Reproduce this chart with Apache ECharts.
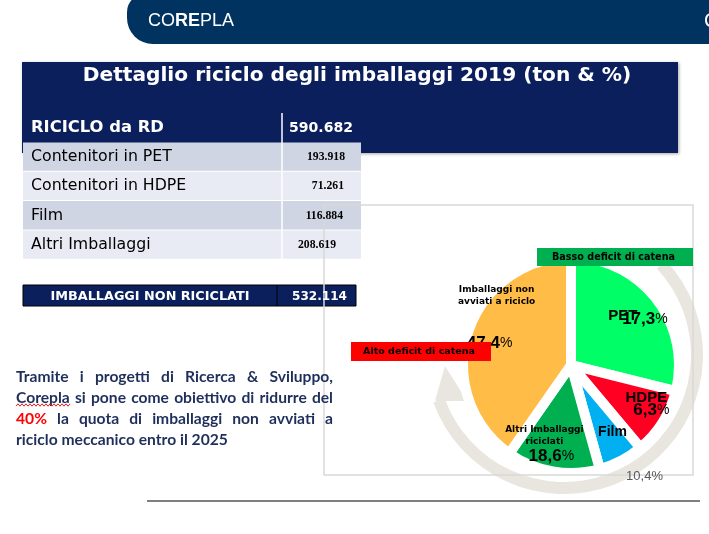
<!DOCTYPE html>
<html><head><meta charset="utf-8">
<script src="https://cdn.jsdelivr.net/npm/echarts/dist/echarts.min.js"></script>
<style>html,body{margin:0;padding:0;background:#fff}#c{width:709px;height:534px}</style>
</head><body><div id="c"></div>
<script>
// ---------------- data ----------------
const logoParts = ['CO', 'RE', 'PLA'];
const titleText = 'Dettaglio riciclo degli imballaggi 2019 (ton & %)';
const rdLabel = 'RICICLO da RD';
const rdValue = '590.682';
const rowLabels = ['Contenitori in PET', 'Contenitori in HDPE', 'Film', 'Altri Imballaggi'];
const rowValues = ['193.918', '71.261', '116.884', '208.619'];
const nonRicLabel = 'IMBALLAGGI NON RICICLATI';
const nonRicValue = '532.114';
// pie slices (share of the circle each slice covers in the drawing, %)
const sliceNames = ['PET', 'HDPE', 'Film', 'Altri Imballaggi\nriciclati', 'Imballaggi non\navviati a riciclo'];
const sliceShare = [28.9, 10.0, 6.8, 14.0, 40.3];
const slicePctLabels = ['17,3', '6,3', '10,4', '18,6', '47,4'];
const bassoText = 'Basso deficit di catena';
const altoText = 'Alto deficit di catena';
const noteLines = [
  'Tramite i progetti di Ricerca & Sviluppo,',
  'Corepla si pone come obiettivo di ridurre del',
  '40% la quota di imballaggi non avviati a',
  'riciclo meccanico entro il 2025'
];
const noteRedWord = '40%';

// ---------------- styles / layout ----------------
const NAVY = '#0B1F5C', HEAD = '#00335F';
const sliceColors = ['#00FF66', '#FF0022', '#00B0F0', '#00B050', '#FFBC47'];
const nameOffsets = [[7, -14], [27, 3], [15, 17], [-17, 14], [-20, -52]];
const pctOffsets = [[29, -11], [32, 15], [47, 61], [-10, 35], [-27, -5]];
const DV = '"DejaVu Sans"', LS = '"Liberation Sans"';

const _ctx = document.createElement('canvas').getContext('2d');
function textW(t, font) { _ctx.font = font; return _ctx.measureText(t).width; }
function fitSize(t, weight, family, target) { return +(100 * target / textW(t, weight + ' 100px ' + family)).toFixed(2); }

const titleSize = fitSize(titleText, 'bold', DV, 549);
const rdSize = fitSize(rdLabel, 'bold', DV, 133);
const rdValSize = fitSize(rdValue, 'bold', DV, 64);
const rowSize = fitSize(rowLabels[0], 'normal', DV, 141);
const valSize = fitSize(rowValues[0], 'bold', '"Liberation Serif"', 38);
const nrSize = fitSize(nonRicLabel, 'bold', DV, 199);
const nrValSize = fitSize(nonRicValue, 'bold', DV, 55);
const noteSize = fitSize(noteLines[3], 'bold', 'Lato', 212);
const bassoSize = fitSize(bassoText, 'bold', DV, 123);
const altoSize = fitSize(altoText, 'bold', DV, 112);

function txt(text, x, y, font, fill, align, z) {
  return { type: 'text', z: z || 4, silent: true,
    style: { text: text, x: x, y: y, font: font, fill: fill, align: align || 'left', verticalAlign: 'middle' } };
}

const els = [];
// header bar + logo
els.push({ type: 'rect', z: 1, silent: true, shape: { x: 127, y: -6, width: 600, height: 50, r: [18, 0, 0, 26] }, style: { fill: HEAD } });
els.push({ type: 'text', z: 4, silent: true, style: {
  text: '{a|' + logoParts[0] + '}{b|' + logoParts[1] + '}{a|' + logoParts[2] + '}', x: 148, y: 21, verticalAlign: 'middle', fill: '#fff',
  rich: { a: { fontFamily: 'Liberation Sans', fontSize: 18, fill: '#fff' }, b: { fontFamily: 'Liberation Sans', fontWeight: 'bold', fontSize: 18, fill: '#fff' } } } });
els.push(txt('C', 704, 21, '20px ' + LS, '#fff', 'left'));

// title box
els.push({ type: 'rect', z: 1, silent: true, shape: { x: 22, y: 62, width: 656, height: 91 },
  style: { fill: NAVY, shadowBlur: 3, shadowOffsetX: 1, shadowOffsetY: 1, shadowColor: 'rgba(0,0,0,0.35)' } });
els.push(txt(titleText, 357, 76, 'bold ' + titleSize + 'px ' + DV, '#fff', 'center'));

// table
els.push({ type: 'rect', z: 2, silent: true, shape: { x: 23, y: 113, width: 340, height: 29 }, style: { fill: NAVY } });
els.push(txt(rdLabel, 31, 128, 'bold ' + rdSize + 'px ' + DV, '#fff'));
els.push(txt(rdValue, 321, 128, 'bold ' + rdValSize + 'px ' + DV, '#fff', 'center'));
const rowFills = ['#CFD5E3', '#E9EBF4'];
const valRight = [345, 344, 343, 336];
rowLabels.forEach(function (lab, i) {
  const top = 142.5 + i * 29.3;
  els.push({ type: 'rect', z: 2, silent: true, shape: { x: 23, y: top, width: 338, height: 28.3 }, style: { fill: rowFills[i % 2] } });
  els.push(txt(lab, 31, top + 14.5, rowSize + 'px ' + DV, '#000'));
  els.push(txt(rowValues[i], valRight[i], top + 14.5, 'bold ' + valSize + 'px "Liberation Serif"', '#000', 'right'));
});
els.push({ type: 'line', z: 3, silent: true, shape: { x1: 282, y1: 113, x2: 282, y2: 259 }, style: { stroke: '#fff', lineWidth: 1.5 } });

els.push({ type: 'rect', z: 2, silent: true, shape: { x: 23, y: 285, width: 333, height: 21 }, style: { fill: NAVY, stroke: '#000', lineWidth: 1 } });
els.push({ type: 'line', z: 3, silent: true, shape: { x1: 277, y1: 285, x2: 277, y2: 306 }, style: { stroke: '#000', lineWidth: 1 } });
els.push(txt(nonRicLabel, 150, 297, 'bold ' + nrSize + 'px ' + DV, '#fff', 'center'));
els.push(txt(nonRicValue, 319.5, 297, 'bold ' + nrValSize + 'px ' + DV, '#fff', 'center'));

// chart frame
els.push({ type: 'rect', z: 3, silent: true, shape: { x: 324, y: 205, width: 369, height: 270 }, style: { fill: null, stroke: '#D9D9D9', lineWidth: 1.5 } });

// circular arrow behind the pie
const d2r = Math.PI / 180;
els.push({ type: 'sector', z: 1, silent: true, shape: { cx: 564, cy: 355, r: 139, r0: 127, startAngle: (47 - 90) * d2r, endAngle: (250 - 90) * d2r, clockwise: true }, style: { fill: '#E9E6DF' } });
els.push({ type: 'polygon', z: 1, silent: true, shape: { points: [[435, 401], [445, 366], [467, 401]] }, style: { fill: '#E9E6DF' } });

// deficit boxes
els.push({ type: 'rect', z: 6, silent: true, shape: { x: 537, y: 248, width: 156, height: 18 }, style: { fill: '#00B050' } });
els.push(txt(bassoText, 613.5, 257, 'bold ' + bassoSize + 'px ' + DV, '#000', 'center', 7));
els.push({ type: 'rect', z: 10, silent: true, shape: { x: 351, y: 342, width: 140, height: 19 }, style: { fill: '#FF0000' } });
els.push(txt(altoText, 419, 352, 'bold ' + altoSize + 'px ' + DV, '#000', 'center', 11));

// justified note text
const noteFont = 'bold ' + noteSize + 'px Lato';
const noteY = [377, 398, 419, 440];
noteLines.forEach(function (line, li) {
  const words = line.split(' ');
  const widths = words.map(function (w) { return textW(w, noteFont); });
  const total = widths.reduce(function (a, b) { return a + b; }, 0);
  const justify = li < noteLines.length - 1;
  const gap = justify ? (333 - 16 - total) / (words.length - 1) : textW(' ', noteFont);
  let x = 16;
  words.forEach(function (w, wi) {
    els.push(txt(w, x, noteY[li], noteFont, w === noteRedWord ? '#FF0000' : '#1F2F5C', 'left'));
    x += widths[wi] + gap;
  });
});
// spell-check wavy underline under "Corepla"
const wave = [];
for (let x = 16, k = 0; x <= 70; x += 2, k++) wave.push([x, 405 + (k % 2 ? -1.2 : 1.2)]);
els.push({ type: 'polyline', z: 4, silent: true, shape: { points: wave }, style: { stroke: '#E02020', lineWidth: 1, fill: null } });

// bottom rule
els.push({ type: 'line', z: 2, silent: true, shape: { x1: 147, y1: 501, x2: 700, y2: 501 }, style: { stroke: '#000', lineWidth: 1.2 } });

// ---------------- pie ----------------
const bigName = { fontFamily: 'Liberation Sans', fontWeight: 'bold', fontSize: 15, color: '#000' };
const smallName = { fontFamily: 'DejaVu Sans', fontWeight: 'bold', fontSize: 9, lineHeight: 12, color: '#000' };
const nameData = sliceNames.map(function (n, i) {
  return { name: n, value: sliceShare[i], itemStyle: { color: sliceColors[i] },
    label: i < 3 ? Object.assign({}, bigName, i === 2 ? { fontSize: 14 } : {}) : smallName };
});
const pctData = sliceNames.map(function (n, i) {
  return { name: n, value: sliceShare[i], pct: slicePctLabels[i] };
});

const option = {
  animation: false,
  graphic: { elements: els },
  series: [
    {
      type: 'pie', z: 2, silent: true, center: [571, 365], radius: [0, 108], startAngle: 90, clockwise: true,
      itemStyle: { borderColor: '#fff', borderWidth: 10 },
      label: { show: true, position: 'inside', color: '#000', formatter: '{b}' },
      labelLine: { show: false },
      labelLayout: function (p) { const o = nameOffsets[p.dataIndex]; return { dx: o[0], dy: o[1] }; },
      data: nameData
    },
    {
      type: 'pie', z: 3, silent: true, center: [571, 365], radius: [0, 108], startAngle: 90, clockwise: true,
      itemStyle: { color: 'rgba(0,0,0,0)', borderWidth: 0 },
      label: {
        show: true, position: 'inside', color: '#000',
        formatter: function (p) {
          return p.dataIndex === 2 ? '{g|' + slicePctLabels[2] + '%}' : '{n|' + slicePctLabels[p.dataIndex] + '}{p|%}';
        },
        rich: {
          n: { fontFamily: 'Liberation Sans', fontWeight: 'bold', fontSize: 17, color: '#000' },
          p: { fontFamily: 'Liberation Sans', fontSize: 14, color: '#000' },
          g: { fontFamily: 'Liberation Sans', fontSize: 13, color: '#595959' }
        }
      },
      labelLine: { show: false },
      labelLayout: function (p) { const o = pctOffsets[p.dataIndex]; return { dx: o[0], dy: o[1] }; },
      data: pctData
    }
  ]
};
const chart = echarts.init(document.getElementById('c'), null, { renderer: 'canvas' });
chart.setOption(option);
</script>
</body></html>
